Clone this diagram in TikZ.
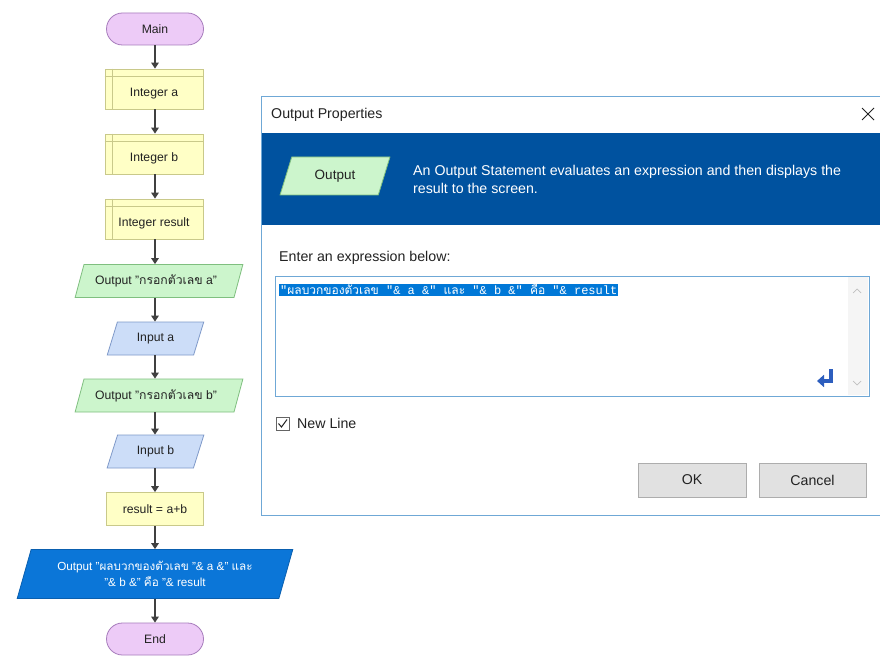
\documentclass[tikz,border=0pt]{standalone}
\usepackage{fontspec}
\setmainfont{Liberation Sans}
\newfontfamily\thai[Script=Thai]{Loma}
\newfontfamily\mono{Liberation Mono}
\usetikzlibrary{arrows.meta,shapes.geometric}
\definecolor{termfill}{HTML}{EDCBF7}
\definecolor{termdraw}{HTML}{A77CBC}
\definecolor{declfill}{HTML}{FFFFC6}
\definecolor{decldraw}{HTML}{C9C98A}
\definecolor{outfill}{HTML}{CCF5CC}
\definecolor{outdraw}{HTML}{7FBF7F}
\definecolor{infill}{HTML}{CCDDF8}
\definecolor{indraw}{HTML}{7F99C9}
\definecolor{bigfill}{HTML}{0B76D8}
\definecolor{bigdraw}{HTML}{0A5FAF}
\definecolor{arrowc}{HTML}{404040}
\definecolor{band}{HTML}{00529F}
\definecolor{dlgborder}{HTML}{6FA8D6}
\definecolor{hilite}{HTML}{0078D7}
\definecolor{btnfill}{HTML}{E1E1E1}
\definecolor{btndraw}{HTML}{ADADAD}
\definecolor{retc}{HTML}{2D5EBE}
\definecolor{txt}{HTML}{222222}
\begin{document}
\begin{tikzpicture}[x=1pt,y=-1pt,
  every node/.style={text=txt},
  fc/.style={font=\fontsize{12.2}{14}\selectfont, inner sep=1pt, line width=0.8pt},
  term/.style={fc, rectangle, rounded corners=16pt, minimum width=97pt, minimum height=32pt, fill=termfill, draw=termdraw},
  decl/.style={fc, rectangle, minimum width=98pt, minimum height=40pt, fill=declfill, draw=decldraw, text height=16pt, text depth=0pt},
  proc/.style={fc, rectangle, minimum width=97pt, minimum height=33pt, fill=declfill, draw=decldraw},
  para/.style={fc, trapezium, trapezium stretches=true, trapezium left angle=#1, trapezium right angle=180-#1},
  outp/.style={para=64, minimum width=168pt, minimum height=33pt, fill=outfill, draw=outdraw},
  inp/.style={para=68, minimum width=97pt, minimum height=33pt, fill=infill, draw=indraw},
  bigout/.style={para=68, minimum width=276pt, minimum height=49pt, fill=bigfill, draw=bigdraw, text=white, align=center, font=\fontsize{11.7}{16}\selectfont},
  declline/.style={draw=decldraw, line width=0.8pt},
  flow/.style={draw=arrowc, line width=1.8pt, -{Triangle[length=6pt,width=7.5pt]}},
  dlg/.style={font=\fontsize{14.2}{18}\selectfont, inner sep=0pt},
  btn/.style={dlg, rectangle, minimum width=108pt, minimum height=34pt, fill=btnfill, draw=btndraw, line width=0.8pt, inner sep=0pt}
]
\useasboundingbox (0,0) rectangle (880,668);
\fill[white] (0,0) rectangle (880,668);

% ---------- flowchart ----------
\node[term] (main) at (155,29) {Main};
\node[decl] (ia) at (154,89) {Integer a};
\node[decl] (ib) at (154,154) {Integer b};
\node[decl] (ir) at (154,219) {Integer result};
\foreach \n in {ia,ib,ir}{
  \draw[declline] ([xshift=8pt]\n.north west) -- ([xshift=8pt]\n.south west);
  \draw[declline] ([yshift=-8pt]\n.north west) -- ([yshift=-8pt]\n.north east);
}
\node[outp] (oa) at (159,281) {\hspace*{-6pt}Output "{\thai กรอกตัวเลข} a"};
\node[inp] (ina) at (155.5,338.5) {Input a};
\node[outp] (ob) at (159,395.5) {\hspace*{-6pt}Output "{\thai กรอกตัวเลข} b"};
\node[inp] (inb) at (155.5,451.5) {Input b};
\node[proc] (res) at (155,509) {result = a+b};
\node[bigout] (big) at (155,574) {Output "{\thai ผลบวกของตัวเลข} "\& a \&" {\thai และ}\\"\& b \&" {\thai คือ} "\& result};
\node[term] (end) at (155,639) {End};

\draw[flow] (main.south) -- (main.south |- ia.north);
\draw[flow] (main.south |- ia.south) -- (main.south |- ib.north);
\draw[flow] (main.south |- ib.south) -- (main.south |- ir.north);
\draw[flow] (main.south |- ir.south) -- (main.south |- oa.north);
\draw[flow] (main.south |- oa.south) -- (main.south |- ina.north);
\draw[flow] (main.south |- ina.south) -- (main.south |- ob.north);
\draw[flow] (main.south |- ob.south) -- (main.south |- inb.north);
\draw[flow] (main.south |- inb.south) -- (main.south |- res.north);
\draw[flow] (main.south |- res.south) -- (main.south |- big.north);
\draw[flow] (main.south |- big.south) -- (main.south |- end.north);

% ---------- dialog ----------
\draw[draw=dlgborder, fill=white, line width=1pt] (261,97) rectangle (880,515);
\fill[band] (261.5,133) rectangle (879.5,225);
\node[dlg, anchor=west] (title) at (271,115) {Output Properties};
\draw[txt, line width=0.8pt] (862,108) -- (874,120) (862,120) -- (874,108);
\node[para=68, minimum width=110pt, minimum height=38pt, fill=outfill, draw=outdraw, line width=0.8pt, font=\fontsize{13.5}{15}\selectfont, inner sep=1pt] (dout) at (335,176) {Output};
\node[dlg, anchor=west, align=left, text=white] (desc) at (413,179) {An Output Statement evaluates an expression and then displays the\\result to the screen.};
\node[dlg, anchor=west] (enter) at (279,258) {Enter an expression below:};
\draw[draw=dlgborder, fill=white, line width=1pt] (275,276) rectangle (869,396);
\fill[gray!8] (848,277) rectangle (868,395);
\draw[gray!50, line width=0.7pt] (853,293) -- (857,289) -- (861,293);
\draw[gray!50, line width=0.7pt] (853,381) -- (857,385) -- (861,381);
\node[anchor=west, fill=hilite, text=white, inner sep=1pt, font=\mono\fontsize{12}{14}\selectfont] (expr) at (279,290) {"{\thai ผลบวกของตัวเลข} "\& a \&" {\thai และ} "\& b \&" {\thai คือ} "\& result};
\draw[retc, line width=3.5pt, -{Triangle[length=7pt,width=12pt]}] (831,369) -- (831,381) -- (817,381);
\draw[txt!70, line width=0.8pt, fill=white] (276,417) rectangle (289,430);
\draw[txt, line width=1pt] (278.5,423.5) -- (281.5,427) -- (287,419.5);
\node[dlg, anchor=west] (newline) at (297,423) {New Line};
\node[btn] (ok) at (692,480) {OK};
\node[btn, minimum width=107pt] (cancel) at (812.5,480) {Cancel};
\end{tikzpicture}
\end{document}
